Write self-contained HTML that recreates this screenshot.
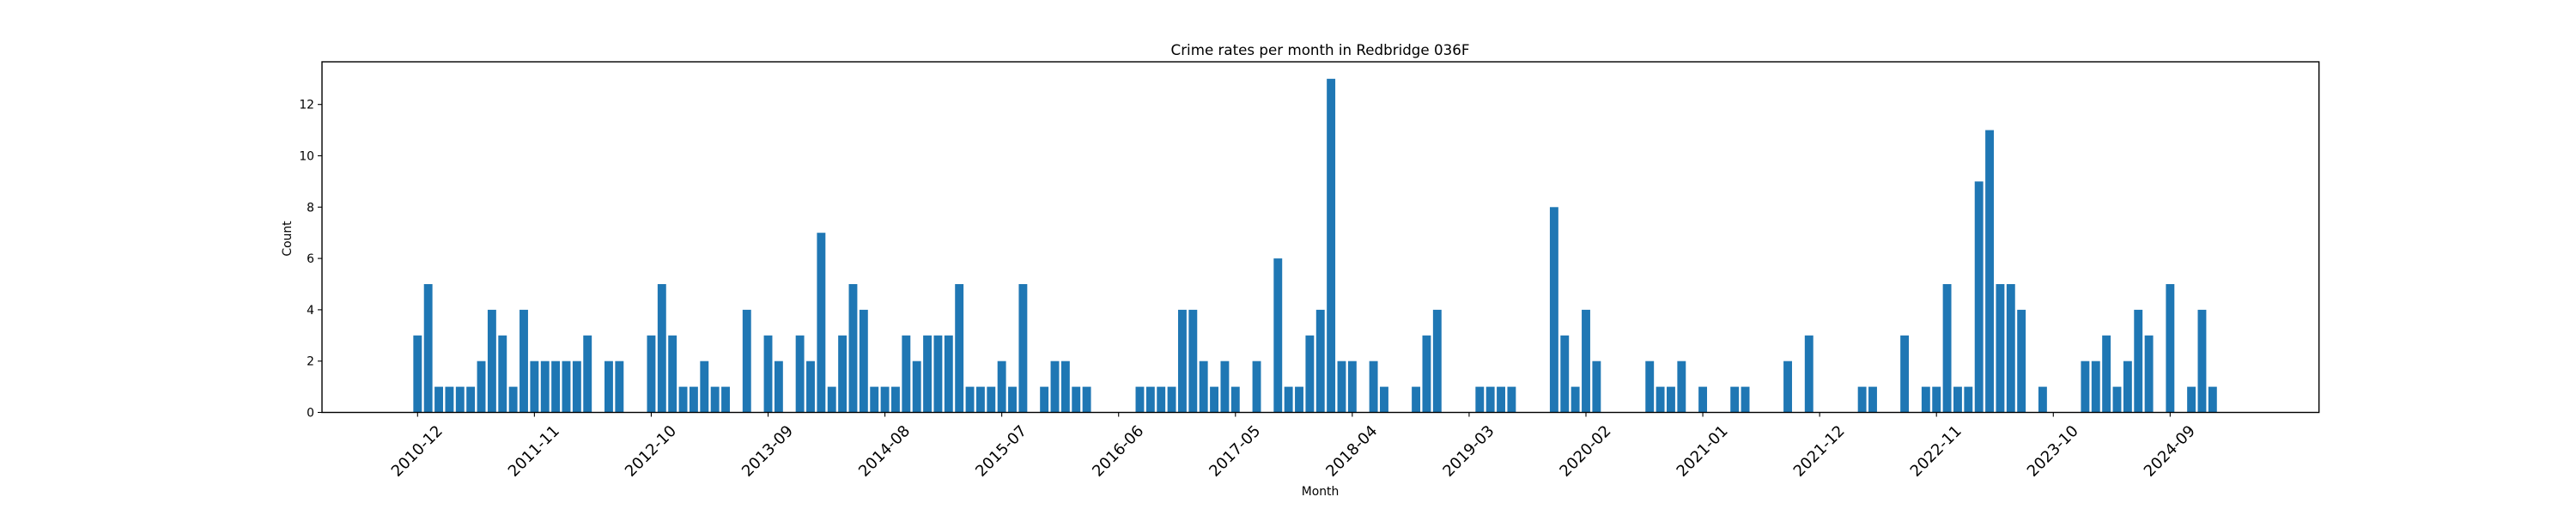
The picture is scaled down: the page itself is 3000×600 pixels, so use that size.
<!DOCTYPE html>
<html><head><meta charset="utf-8"><style>
html,body{margin:0;padding:0;background:#fff;}
svg{display:block;font-family:"DejaVu Sans","Liberation Sans",sans-serif;}
</style></head><body>
<svg id="chart" width="3000" height="600" viewBox="0 0 3000 600" xmlns="http://www.w3.org/2000/svg">
<rect x="0" y="0" width="3000" height="600" fill="#fff"/>
<text x="1537.5" y="64" font-size="16.7" text-anchor="middle" fill="#000">Crime rates per month in Redbridge 036F</text>
<g id="bars"></g>
<g id="yaxis"></g>
<g id="xaxis"></g>
<rect x="375" y="72" width="2325.7" height="408.5" fill="none" stroke="#000" stroke-width="1.4"/>
<text transform="translate(339,278) rotate(-90)" font-size="13.9" text-anchor="middle" fill="#000">Count</text>
<text x="1537.5" y="577" font-size="13.9" text-anchor="middle" fill="#000">Month</text>
</svg>
<script>
const counts = [3,5,1,1,1,1,2,4,3,1,4,2,2,2,2,2,3,0,2,2,0,0,3,5,3,1,1,2,1,1,0,4,0,3,2,0,3,2,7,1,3,5,4,1,1,1,3,2,3,3,3,5,1,1,1,2,1,5,0,1,2,2,1,1,0,0,0,0,1,1,1,1,4,4,2,1,2,1,0,2,0,6,1,1,3,4,13,2,2,0,2,1,0,0,1,3,4,0,0,0,1,1,1,1,0,0,0,8,3,1,4,2,0,0,0,0,2,1,1,2,0,1,0,0,1,1,0,0,0,2,0,3,0,0,0,0,1,1,0,0,3,0,1,1,5,1,1,9,11,5,5,4,0,1,0,0,0,2,2,3,1,2,4,3,0,5,0,1,4,1];
const xTickLabels = ["2010-12","2011-11","2012-10","2013-09","2014-08","2015-07","2016-06","2017-05","2018-04","2019-03","2020-02","2021-01","2021-12","2022-11","2023-10","2024-09"];
const xTickIndex = [0,11,22,33,44,55,66,77,88,99,110,121,132,143,154,165];
const yTicks = [0,2,4,6,8,10,12];

const NS = "http://www.w3.org/2000/svg";
const X0 = 486.3, STEP = 12.37, Y0 = 480.5, UNIT = 29.9, BW = STEP * 0.8;
function xScale(i){ return X0 + STEP * i; }
function yScale(v){ return Y0 - UNIT * v; }
function mk(tag, attrs){ const e = document.createElementNS(NS, tag); for (const k in attrs) e.setAttribute(k, attrs[k]); return e; }

const bars = document.getElementById('bars');
counts.forEach((v, i) => {
  if (v <= 0) return;
  const r = mk('rect', {x: xScale(i) - BW/2, y: yScale(v), width: BW, height: Y0 - yScale(v), fill: '#1f77b4'});
  
  
  bars.appendChild(r);
});

const ya = document.getElementById('yaxis');
yTicks.forEach(t => {
  const y = yScale(t);
  const ln = mk('line', {x1: 370, x2: 375, y1: y, y2: y, stroke: '#000', 'stroke-width': 1.1});
  
  
  ya.appendChild(ln);
  const tx = mk('text', {x: 366, y: y + 5, 'font-size': 13.9, 'text-anchor': 'end', fill: '#000'});
  
  
  tx.textContent = String(t);
  ya.appendChild(tx);
});

const xa = document.getElementById('xaxis');
xTickIndex.forEach((idx, k) => {
  const x = xScale(idx);
  const ln = mk('line', {x1: x, x2: x, y1: 480.5, y2: 485.5, stroke: '#000', 'stroke-width': 1.1});
  
  
  xa.appendChild(ln);
  const tx = mk('text', {transform: 'translate(' + (x + 30) + ',503) rotate(-45)', 'font-size': 18, 'text-anchor': 'end', fill: '#000'});
  
  
  tx.textContent = xTickLabels[k];
  xa.appendChild(tx);
});
</script>
</body></html>
